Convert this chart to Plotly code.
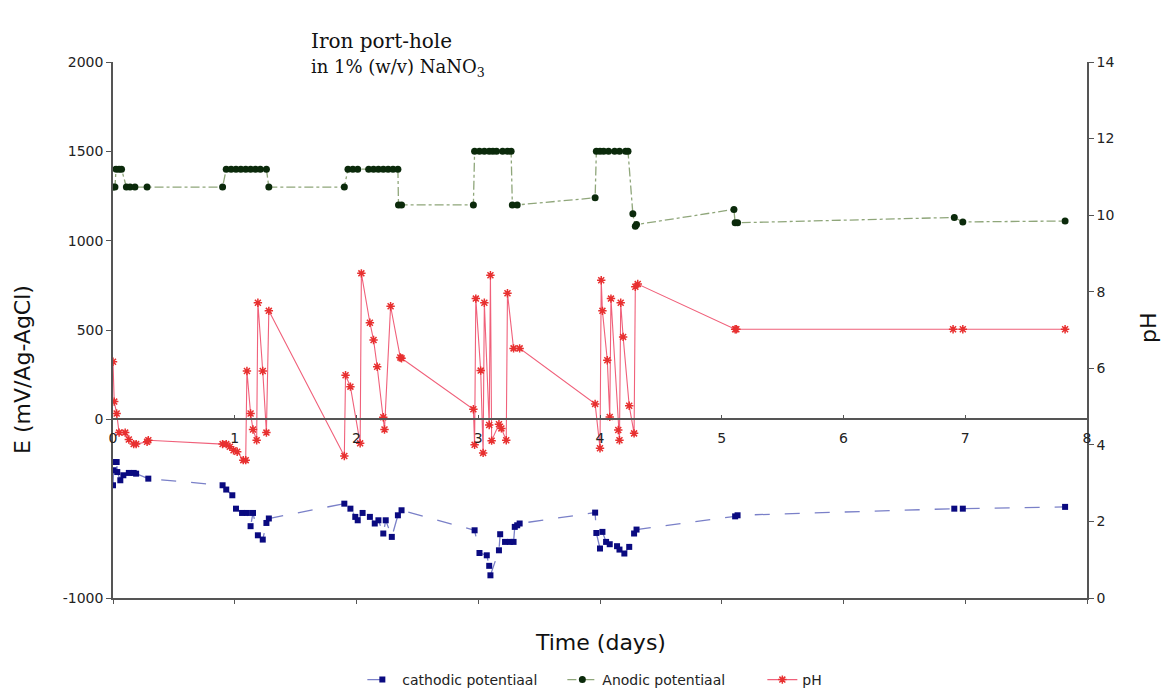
import plotly.graph_objects as go

# ---- data ----
cath_t = [0.00, 0.005, 0.008, 0.03, 0.035, 0.06, 0.085, 0.13, 0.17, 0.19, 0.29,
          0.90, 0.93, 0.98, 1.01, 1.06, 1.10, 1.13, 1.15, 1.19, 1.23, 1.26, 1.28,
          1.90, 1.95, 1.99, 2.01, 2.05, 2.11, 2.15, 2.18, 2.22, 2.24, 2.29, 2.34, 2.37,
          2.97, 3.01, 3.07, 3.09, 3.10, 3.17, 3.18, 3.22, 3.26, 3.29, 3.30, 3.32, 3.34,
          3.96, 3.97, 4.00, 4.02, 4.05, 4.08, 4.14, 4.16, 4.20, 4.24, 4.28, 4.30,
          5.11, 5.13, 6.91, 6.98, 7.82]
cath_E = [-369, -285, -239, -239, -295, -341, -313, -300, -300, -304, -332,
          -369, -393, -425, -500, -524, -524, -598, -524, -649, -673, -580, -555,
          -472, -500, -546, -565, -524, -546, -583, -565, -639, -565, -658, -537, -509,
          -621, -748, -761, -820, -873, -733, -643, -686, -686, -686, -602, -593, -583,
          -522, -636, -723, -630, -686, -699, -710, -729, -751, -714, -639, -617,
          -543, -537, -500, -500, -490]

anod_t = [0.00, 0.016, 0.025, 0.05, 0.07, 0.11, 0.14, 0.18, 0.28,
          0.90, 0.93, 0.97, 1.01, 1.05, 1.09, 1.13, 1.17, 1.21, 1.26, 1.28,
          1.90, 1.93, 1.97, 2.01, 2.10, 2.14, 2.18, 2.22, 2.26, 2.30, 2.34, 2.345, 2.37,
          2.96, 2.97, 3.01, 3.05, 3.09, 3.12, 3.15, 3.20, 3.24, 3.27, 3.28, 3.32,
          3.96, 3.97, 4.00, 4.03, 4.07, 4.12, 4.16, 4.21, 4.23, 4.27, 4.29, 4.30,
          5.10, 5.11, 5.13, 6.91, 6.98, 7.82]
anod_E = [1300, 1300, 1400, 1400, 1400, 1300, 1300, 1300, 1300,
          1300, 1400, 1400, 1400, 1400, 1400, 1400, 1400, 1400, 1400, 1300,
          1300, 1400, 1400, 1400, 1400, 1400, 1400, 1400, 1400, 1400, 1400, 1200, 1200,
          1200, 1500, 1500, 1500, 1500, 1500, 1500, 1500, 1500, 1500, 1200, 1200,
          1240, 1500, 1500, 1500, 1500, 1500, 1500, 1500, 1500, 1150, 1080, 1090,
          1175, 1100, 1100, 1130, 1105, 1110]

ph_t = [0.00, 0.01, 0.03, 0.05, 0.10, 0.13, 0.17, 0.19, 0.28, 0.29,
        0.90, 0.93, 0.96, 0.99, 1.02, 1.07, 1.09, 1.10, 1.13, 1.15, 1.18, 1.19, 1.23, 1.26, 1.28,
        1.90, 1.91, 1.95, 2.03, 2.04, 2.11, 2.14, 2.17, 2.22, 2.23, 2.28, 2.36, 2.37,
        2.96, 2.97, 2.98, 3.02, 3.04, 3.05, 3.09, 3.10, 3.11, 3.17, 3.19, 3.23, 3.24, 3.29, 3.34,
        3.96, 4.00, 4.01, 4.02, 4.06, 4.08, 4.09, 4.15, 4.16, 4.17, 4.19, 4.24, 4.28, 4.29, 4.31,
        5.11, 5.12, 6.90, 6.98, 7.82]
ph_v = [6.17, 5.13, 4.82, 4.32, 4.32, 4.14, 4.02, 4.02, 4.08, 4.12,
        4.02, 4.02, 3.95, 3.86, 3.82, 3.60, 3.60, 5.93, 4.82, 4.40, 4.12, 7.71, 5.93, 4.32, 7.50,
        3.71, 5.82, 5.52, 4.04, 8.48, 7.19, 6.74, 6.04, 4.72, 4.40, 7.62, 6.28, 6.26,
        4.93, 4.00, 7.82, 5.94, 3.79, 7.71, 4.52, 8.43, 4.11, 4.54, 4.43, 4.12, 7.96, 6.52, 6.52,
        5.07, 3.91, 8.30, 7.50, 6.21, 4.73, 7.82, 4.39, 4.12, 7.71, 6.82, 5.02, 4.30, 8.13, 8.20,
        7.02, 7.02, 7.02, 7.02, 7.02]

e_ticks = [2000, 1500, 1000, 500, 0, -1000]
e_ticktext = ["2000", "1500", "1000", "500", "0", "-1000"]
ph_ticks = [0, 2, 4, 6, 8, 10, 12, 14]
t_ticks = [0, 1, 2, 3, 4, 5, 6, 7, 8]

FONT = "DejaVu Sans, Arial, sans-serif"
SERIF = "DejaVu Serif, Times New Roman, serif"

fig = go.Figure()
fig.add_trace(go.Scatter(
    x=cath_t, y=cath_E, name="cathodic potentiaal", mode="lines+markers",
    line=dict(color="#7a80c8", width=1.3, dash="longdash"),
    marker=dict(symbol="square", size=6, color="#0a0a80"),
    xaxis="x", yaxis="y"))
fig.add_trace(go.Scatter(
    x=anod_t, y=anod_E, name="Anodic potentiaal", mode="lines+markers",
    line=dict(color="#8fa67a", width=1.3, dash="dashdot"),
    marker=dict(symbol="circle", size=7, color="#0b2a0b"),
    xaxis="x", yaxis="y"))
fig.add_trace(go.Scatter(
    x=ph_t, y=ph_v, name="pH", mode="lines+markers",
    line=dict(color="#f0607a", width=1.1),
    marker=dict(symbol="asterisk-open", size=7, color="#e83030",
                line=dict(color="#e83030", width=1.5)),
    xaxis="x2", yaxis="y2"))

axis_common = dict(showgrid=False, zeroline=False, showline=True,
                   linecolor="#555555", linewidth=1.5, tickcolor="#555555",
                   tickfont=dict(family=FONT, size=14, color="#222222"))

fig.update_layout(
    width=1171, height=688,
    margin=dict(l=113, r=84, t=62, b=90, autoexpand=False),
    paper_bgcolor="white", plot_bgcolor="white",
    showlegend=True,
    legend=dict(orientation="h", x=0.256, xanchor="left", y=-0.153, yanchor="middle",
                entrywidth=155, entrywidthmode="pixels",
                font=dict(family=FONT, size=14, color="#222222"),
                bgcolor="rgba(0,0,0,0)"),
    xaxis=dict(range=[0, 8], tickvals=t_ticks, showticklabels=False,
               ticks="outside", ticklen=4, anchor="y", **axis_common),
    xaxis2=dict(range=[0, 8], tickvals=t_ticks, ticks="inside", ticklen=4,
                ticklabelstandoff=6,
                overlaying="x", anchor="free", position=1/3, side="bottom",
                **axis_common),
    yaxis=dict(range=[-1000, 2000], tickvals=e_ticks, ticktext=e_ticktext,
               ticks="outside", ticklen=5, anchor="x", **axis_common),
    yaxis2=dict(range=[0, 14], tickvals=ph_ticks, ticks="outside", ticklen=5,
                overlaying="y", side="right", anchor="x", **axis_common),
)

annotations = [
    dict(text="Iron port-hole", x=309, y=41, font=dict(family=SERIF, size=20)),
    dict(text="in 1% (w/v) NaNO<sub>3</sub>", x=309, y=68, font=dict(family=SERIF, size=18)),
]
for a in annotations:
    fig.add_annotation(text=a["text"], xref="paper", yref="paper",
                       x=(a["x"] - 113) / 974, y=(598 - a["y"]) / 536,
                       xanchor="left", yanchor="middle", showarrow=False,
                       font=dict(color="#111111", **a["font"]))

fig.add_annotation(text="E (mV/Ag-AgCl)", xref="paper", yref="paper",
                   x=(22 - 113) / 974, y=(598 - 370) / 536, textangle=-90,
                   xanchor="center", yanchor="middle", showarrow=False,
                   font=dict(family=FONT, size=22, color="#111111"))
fig.add_annotation(text="pH", xref="paper", yref="paper",
                   x=(1148 - 113) / 974, y=(598 - 328) / 536, textangle=-90,
                   xanchor="center", yanchor="middle", showarrow=False,
                   font=dict(family=FONT, size=22, color="#111111"))
fig.add_annotation(text="Time (days)", xref="paper", yref="paper",
                   x=(600 - 113) / 974, y=(598 - 642) / 536,
                   xanchor="center", yanchor="middle", showarrow=False,
                   font=dict(family=FONT, size=22, color="#111111"))

fig.write_html("out.html")
